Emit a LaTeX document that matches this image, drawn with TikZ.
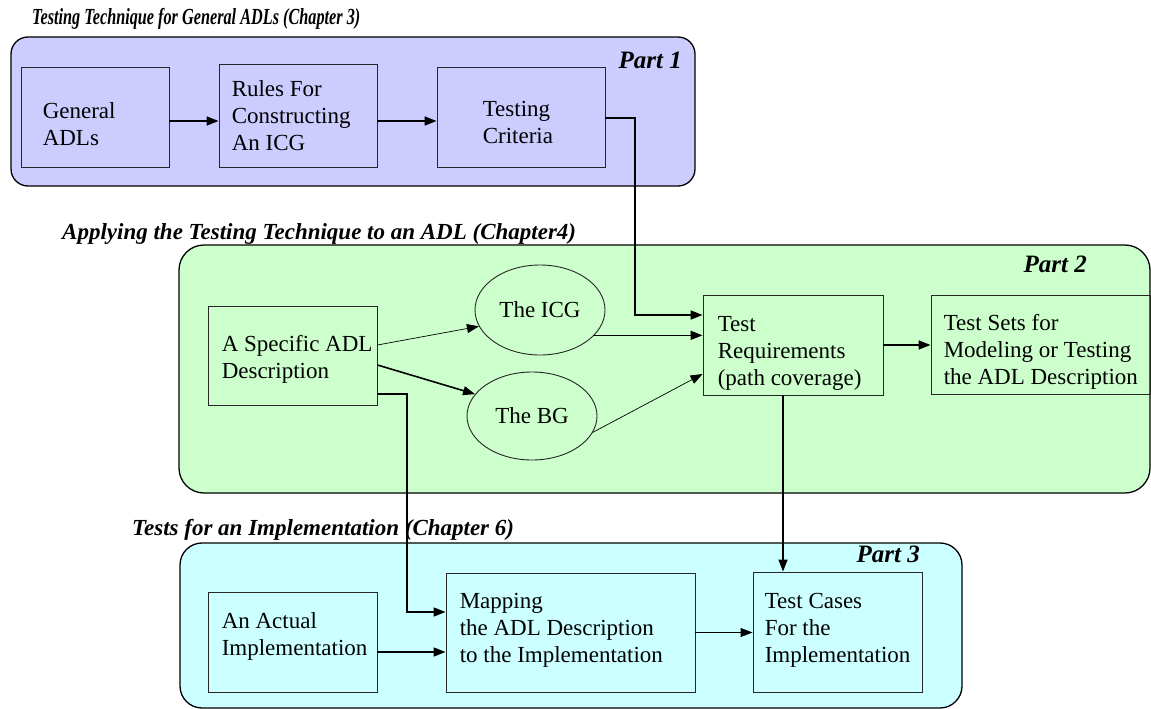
\documentclass[tikz,border=0pt]{standalone}
\usepackage{fontspec}
\setmainfont{Liberation Serif}
\usetikzlibrary{arrows.meta,shapes.geometric,calc}

\definecolor{partone}{HTML}{CCCCFF}
\definecolor{parttwo}{HTML}{CCFFCC}
\definecolor{partthree}{HTML}{CCFFFF}

\newcommand{\bodyfont}{\fontsize{23}{27}\selectfont}
\newcommand{\headfont}{\fontsize{23}{27}\selectfont\bfseries\itshape}
\newcommand{\partfont}{\fontsize{25}{28}\selectfont\bfseries\itshape}

\begin{document}
\begin{tikzpicture}[x=1pt,y=-1pt,
  part/.style={draw=black, line width=1.3pt},
  stage/.style={draw=black!85, line width=0.9pt, inner sep=0pt},
  oval/.style={ellipse, draw=black!85, line width=0.9pt, inner sep=0pt, font=\bodyfont},
  txt/.style={anchor=west, align=left, inner sep=0pt, font=\bodyfont},
  heading/.style={anchor=base west, inner sep=0pt, font=\headfont},
  partlabel/.style={anchor=base east, inner sep=0pt, font=\partfont},
  flow/.style={line width=1.6pt, -{Triangle[length=12pt,width=9pt]}},
  thinflow/.style={line width=0.7pt, -{Triangle[length=12pt,width=9pt]}},
]
\useasboundingbox (0,0) rectangle (1151,709);

% ---- section backgrounds
\draw[part, fill=partone, rounded corners=17pt] (11,37) rectangle (695,186);
\draw[part, fill=parttwo, rounded corners=25pt] (179,245) rectangle (1150,493);
\draw[part, fill=partthree, rounded corners=22pt] (180,543) rectangle (962,708);

% ---- section headings
\node[heading] (h1) at (32,25) {\scalebox{0.706}[1]{Testing Technique for General ADLs (Chapter 3)}};
\node[heading] (h2) at (62,239) {Applying the Testing Technique to an ADL (Chapter4)};
\node[heading] (h3) at (132,535) {Tests for an Implementation (Chapter 6)};

\node[partlabel] (p1) at (682,68) {Part 1};
\node[partlabel] (p2) at (1087,272) {Part 2};
\node[partlabel] (p3) at (920,562) {Part 3};

% ---- Part 1
\node[stage, minimum width=148pt, minimum height=100pt] (gen) at (95,117) {};
\node[txt] (gen-t) at ([xshift=22pt,yshift=-7pt]gen.west) {General\\ADLs};
\node[stage, minimum width=158pt, minimum height=103pt] (rules) at (298,115.5) {};
\node[txt] (rules-t) at ([xshift=13pt]rules.west) {Rules For\\Constructing\\An ICG};
\node[stage, minimum width=168pt, minimum height=100pt] (crit) at (521,117) {};
\node[txt] (crit-t) at ([xshift=46pt,yshift=-5pt]crit.west) {Testing\\Criteria};

% ---- Part 2
\node[stage, minimum width=169pt, minimum height=99pt] (adl) at (292.5,355.5) {};
\node[txt] (adl-t) at ([xshift=14pt,yshift=-3.5pt]adl.west) {A Specific ADL\\Description};
\node[oval, minimum width=130pt, minimum height=90pt] (icg) at (540,310) {The ICG};
\node[oval, minimum width=130pt, minimum height=88pt] (bg) at (532,416) {The BG};
\node[stage, minimum width=180pt, minimum height=100pt] (req) at (793,345) {};
\node[txt] (req-t) at ([xshift=15pt,yshift=-8pt]req.west) {Test\\Requirements\\(path coverage)};
\node[stage, minimum width=219pt, minimum height=99pt] (sets) at (1040.5,345) {};
\node[txt] (sets-t) at ([xshift=13pt,yshift=-7pt]sets.west) {Test Sets for\\Modeling or Testing\\the ADL Description};

% ---- Part 3
\node[stage, minimum width=169pt, minimum height=100pt] (act) at (292.5,642) {};
\node[txt] (act-t) at ([xshift=14pt,yshift=6pt]act.west) {An Actual\\Implementation};
\node[stage, minimum width=249pt, minimum height=119pt] (map) at (570.5,632.5) {};
\node[txt] (map-t) at ([xshift=14pt,yshift=2pt]map.west) {Mapping\\the ADL Description\\to the Implementation};
\node[stage, minimum width=169pt, minimum height=120pt] (cases) at (837.5,632) {};
\node[txt] (cases-t) at ([xshift=12pt,yshift=2pt]cases.west) {Test Cases\\For the\\Implementation};

% ---- connectors
\coordinate (bendA) at (635,118);
\coordinate (bendB) at (407,394);

\draw[flow] (gen.east |- 0,121) -- (rules.west |- 0,121);
\draw[flow] (rules.east |- 0,121) -- (crit.west |- 0,121);
\draw[flow] (crit.east |- bendA) -- (bendA) |- (req.west |- 0,315);

\draw[thinflow] (adl.east |- 0,345) -- (icg.195);
\draw[flow] (adl.east |- 0,365) -- (bg.159);
\draw[flow] (icg.-25) -- (icg.-25 -| req.west);
\draw[thinflow] (bg.-15) -- (req.west |- 0,374);
\draw[flow] (req.east) -- (sets.west);

\draw[flow] (adl.east |- bendB) -- (bendB) |- (map.west |- 0,612);
\draw[flow] ([xshift=-10pt]req.south) -- ([xshift=-10pt]req.south |- cases.north);
\draw[flow] (act.east |- 0,652) -- (map.west |- 0,652);
\draw[thinflow, line width=0.9pt] (map.east) -- (map.east -| cases.west);

\end{tikzpicture}
\end{document}
